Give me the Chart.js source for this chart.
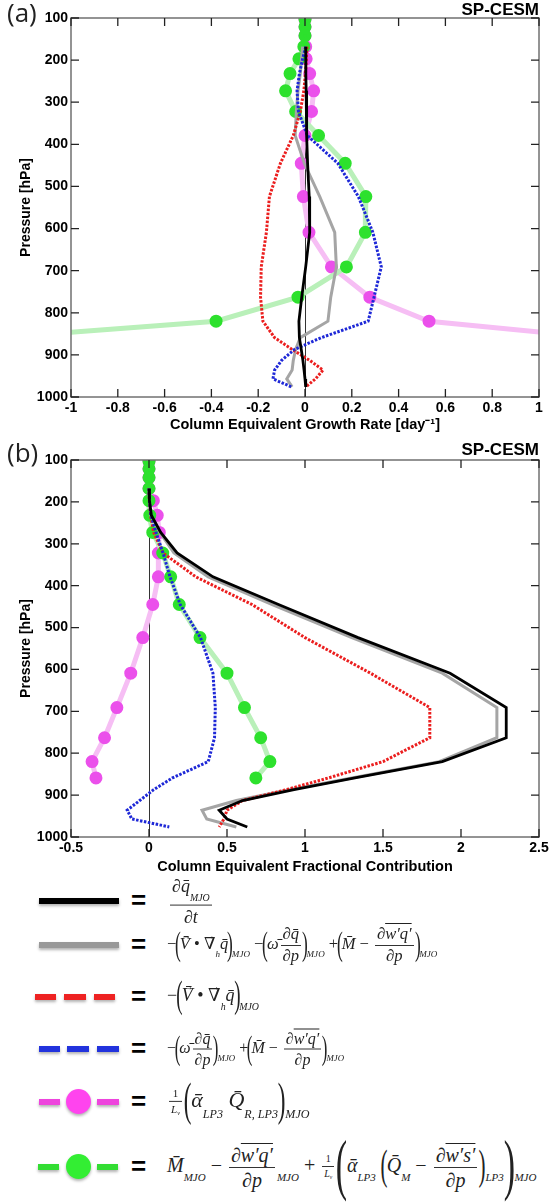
<!DOCTYPE html>
<html lang="en">
<head>
<meta charset="UTF-8">
<title>SP-CESM MJO moisture budget profiles</title>
<script src="https://cdn.jsdelivr.net/npm/chart.js"></script>
<style>
  body { margin: 0; background: #fff; }
  #page { position: relative; width: 556px; height: 1204px; overflow: hidden; }
  canvas { position: absolute; left: 0; }
  .tag { position: absolute; left: 7px; font-family: 'Open Sans', sans-serif; font-size: 26px; color: #222; line-height: 1; }
  .model { position: absolute; right: 17px; font-family: 'Liberation Sans', Arial, sans-serif; font-weight: bold; font-size: 17px; line-height: 1; }
  .key { position: absolute; height: 6px; box-shadow: 0 2px 3px rgba(0,0,0,0.3); }
  .dot { position: absolute; width: 25px; height: 25px; border-radius: 50%; box-shadow: 0 2px 3px rgba(0,0,0,0.3); }
  .eqs { position: absolute; left: 131px; font-family: 'Liberation Sans', Arial, sans-serif; font-weight: bold; font-size: 26px; transform: translateY(-52%); line-height: 1; }
  .eq { position: absolute; left: 167px; transform: translateY(-50%); font-family: 'Liberation Serif', 'DejaVu Serif', serif; font-size: 17px; color: #222; white-space: nowrap; line-height: 1; }
  .eq i { font-style: italic; }
  .s { font-size: 0.55em; font-style: italic; vertical-align: -0.9em; }
  .f { display: inline-block; vertical-align: middle; text-align: center; margin: 0 2px; }
  .f > span { display: block; padding: 0 2px; }
  .f > span:first-child { border-bottom: 1px solid #333; padding-bottom: 2px; }
  .f > span:last-child { padding-top: 2px; }
  .P { display: inline-block; font-size: 2.1em; transform: scaleX(0.5); vertical-align: middle; line-height: 1; margin: 0 -4px; position: relative; top: -0.05em; }
  .P.big { font-size: 3.4em; margin: 0 -6px; }
  .o { text-decoration: overline; text-decoration-thickness: 1px; }
  .v { position: relative; display: inline-block; }
  .v::before { content: '\2192'; position: absolute; left: 0.12em; top: -0.5em; font-size: 0.6em; font-style: normal; }
</style>
</head>
<body>
<div id="page">
  <canvas id="chartA" width="556" height="440" style="top:0"></canvas>
  <canvas id="chartB" width="556" height="440" style="top:440px"></canvas>

  <div class="tag" style="top:-1px">(a)</div>
  <div class="model" style="top:1px">SP-CESM</div>
  <div class="tag" style="top:439px">(b)</div>
  <div class="model" style="top:441px">SP-CESM</div>

  <!-- legend keys -->
  <div class="key" style="left:39px;top:898px;width:80px;background:#000"></div>
  <div class="key" style="left:39px;top:942px;width:80px;background:#999"></div>
  <div class="key" style="left:35px;top:994px;width:21px;background:#ee2222"></div>
  <div class="key" style="left:64px;top:994px;width:22px;background:#ee2222"></div>
  <div class="key" style="left:94px;top:994px;width:21px;background:#ee2222"></div>
  <div class="key" style="left:39px;top:1046px;width:21px;background:#2233dd"></div>
  <div class="key" style="left:67px;top:1046px;width:22px;background:#2233dd"></div>
  <div class="key" style="left:97px;top:1046px;width:22px;background:#2233dd"></div>
  <div class="key" style="left:39px;top:1099px;width:21px;background:#ee44dd"></div>
  <div class="dot" style="left:66px;top:1089px;background:#ff44ee"></div>
  <div class="key" style="left:97px;top:1099px;width:22px;background:#ee44dd"></div>
  <div class="key" style="left:38px;top:1164px;width:21px;background:#33dd33"></div>
  <div class="dot" style="left:66px;top:1154px;background:#33ee33"></div>
  <div class="key" style="left:97px;top:1164px;width:21px;background:#33dd33"></div>

  <div class="eqs" style="top:901px">=</div>
  <div class="eqs" style="top:945px">=</div>
  <div class="eqs" style="top:997px">=</div>
  <div class="eqs" style="top:1049px">=</div>
  <div class="eqs" style="top:1102px">=</div>
  <div class="eqs" style="top:1167px">=</div>

  <div class="eq" style="top:901px;left:168px;font-size:18px">
    <span class="f"><span><i>∂q̄</i><span class="s">MJO</span></span><span><i>∂t</i></span></span>
  </div>
  <div class="eq" style="top:945px;font-size:16.5px">
    −<span class="P">(</span><span class="v"><i>V̄</i></span> • <span class="v">∇</span><span class="s">h</span><i>q̄</i><span class="P">)</span><span class="s">MJO</span>
    −<span class="P">(</span><i>ω̄</i><span class="f"><span><i>∂q̄</i></span><span><i>∂p</i></span></span><span class="P">)</span><span class="s">MJO</span>
    +<span class="P">(</span><i>M̄</i> − <span class="f"><span><i>∂<span class="o">w′q′</span></i></span><span><i>∂p</i></span></span><span class="P">)</span><span class="s">MJO</span>
  </div>
  <div class="eq" style="top:997px;font-size:18px">
    −<span class="P">(</span><span class="v"><i>V̄</i></span> • <span class="v">∇</span><span class="s">h</span><i>q̄</i><span class="P">)</span><span class="s">MJO</span>
  </div>
  <div class="eq" style="top:1049px;font-size:16px">
    −<span class="P">(</span><i>ω̄</i><span class="f"><span><i>∂q̄</i></span><span><i>∂p</i></span></span><span class="P">)</span><span class="s">MJO</span>
    +<span class="P">(</span><i>M̄</i> − <span class="f"><span><i>∂<span class="o">w′q′</span></i></span><span><i>∂p</i></span></span><span class="P">)</span><span class="s">MJO</span>
  </div>
  <div class="eq" style="top:1102px;font-size:22px">
    <span class="f" style="font-size:0.5em"><span>1</span><span><i>L</i><span class="s" style="vertical-align:-0.3em">v</span></span></span><span class="P">(</span><i>ᾱ</i><span class="s">LP3</span> <i>Q̄</i><span class="s">R, LP3</span><span class="P">)</span><span class="s">MJO</span>
  </div>
  <div class="eq" style="top:1167px;font-size:20px">
    <i>M̄</i><span class="s">MJO</span> − <span class="f"><span><i>∂<span class="o">w′q′</span></i></span><span><i>∂p</i></span></span><span class="s">MJO</span>
    + <span class="f" style="font-size:0.5em"><span>1</span><span><i>L</i><span class="s" style="vertical-align:-0.3em">v</span></span></span><span class="P big">(</span><i>ᾱ</i><span class="s">LP3</span> <span class="P">(</span><i>Q̄</i><span class="s">M</span> − <span class="f"><span><i>∂<span class="o">w′s′</span></i></span><span><i>∂p</i></span></span><span class="P">)</span><span class="s">LP3</span><span class="P big">)</span><span class="s">MJO</span>
  </div>
</div>

<script>
// model levels [hPa] for the budget terms (solid / dotted lines)
const levels = [168, 197, 232, 273, 322, 379, 445, 524, 609, 691, 763, 820, 859, 887, 913, 936, 957, 976];
// levels of the dotted-marker curves
const dotLevels = [103, 121, 142, 168, 197, 232, 273, 322, 379, 445, 524, 609, 691, 763, 820, 859];

// (a) column equivalent growth rate [day^-1]
const aTendency = [0.003, 0.003, 0.004, 0.005, 0.006, 0.008, 0.011, 0.018, 0.02, 0.003, -0.014, -0.026, -0.024, -0.016, -0.009, -0.004, 0.0, 0.003];
const aTotal    = [-0.01, -0.015, -0.02, -0.03, -0.037, -0.042, -0.003, 0.063, 0.127, 0.134, 0.11, 0.098, -0.02, -0.04, -0.05, -0.055, -0.078, -0.055];
const aHoriz    = [0.008, 0.006, 0.002, -0.005, -0.02, -0.05, -0.105, -0.152, -0.165, -0.187, -0.19, -0.18, -0.13, -0.055, 0.02, 0.077, 0.045, 0.003];
const aVert     = [0.003, -0.01, -0.024, -0.034, -0.028, 0.01, 0.14, 0.228, 0.29, 0.326, 0.295, 0.27, 0.07, -0.045, -0.1, -0.13, -0.137, -0.058];
const aRad      = [0, 0, 0, 0.003, 0.005, 0.02, 0.037, 0.028, 0, -0.016, -0.007, 0.017, 0.113, 0.277, 0.53, 1.24];
const aConv     = [0, 0, 0, -0.005, -0.026, -0.064, -0.083, -0.04, 0.058, 0.172, 0.26, 0.258, 0.177, -0.03, -0.38, -1.3];

// (b) column equivalent fractional contribution
const bTendency = [0, 0.003, 0.015, 0.075, 0.18, 0.41, 0.83, 1.34, 1.93, 2.29, 2.29, 1.88, 1.32, 0.93, 0.6, 0.45, 0.5, 0.63];
const bTotal    = [0, 0.003, 0.012, 0.07, 0.16, 0.38, 0.79, 1.3, 1.88, 2.23, 2.23, 1.86, 1.3, 0.9, 0.56, 0.34, 0.37, 0.56];
const bHoriz    = [0, 0.002, 0.01, 0.03, 0.09, 0.3, 0.66, 1.0, 1.42, 1.8, 1.8, 1.5, 1.15, 0.88, 0.6, 0.5, 0.48, 0.45];
const bVert     = [0, 0.003, 0.012, 0.045, 0.09, 0.135, 0.2, 0.33, 0.41, 0.425, 0.42, 0.38, 0.15, 0.03, -0.06, -0.14, -0.11, 0.13];
const bRad      = [0, 0, 0, 0, 0.028, 0.053, 0.066, 0.06, 0.06, 0.024, -0.04, -0.117, -0.206, -0.285, -0.365, -0.34];
const bConv     = [0, 0, 0, 0, 0, 0.005, 0.024, 0.088, 0.139, 0.194, 0.327, 0.5, 0.612, 0.716, 0.775, 0.685];

const pressureTicks = [100, 200, 300, 400, 500, 600, 700, 800, 900, 1000];
const aTicks = [-1, -0.8, -0.6, -0.4, -0.2, 0, 0.2, 0.4, 0.6, 0.8, 1];
const bTicks = [-0.5, 0, 0.5, 1, 1.5, 2, 2.5];

const SANS = "'Liberation Sans', Arial, sans-serif";

function pts(xs, ps) {
    return xs.map((x, i) => ({ x: x, y: ps[i] }));
}

function series(tend, total, horiz, vert, rad, conv) {
    return [
        { data: pts(rad, dotLevels), borderColor: 'rgb(246,190,244)', borderWidth: 5,
          pointRadius: 4, pointBackgroundColor: 'rgb(235,80,235)', pointBorderColor: 'rgb(235,80,235)', order: 6 },
        { data: pts(conv, dotLevels), borderColor: 'rgb(185,240,185)', borderWidth: 5,
          pointRadius: 4, pointBackgroundColor: 'rgb(45,225,45)', pointBorderColor: 'rgb(45,225,45)', order: 5 },
        { data: pts(total, levels), borderColor: 'rgb(165,165,165)', borderWidth: 3, pointRadius: 0, order: 4 },
        { data: pts(horiz, levels), borderColor: 'rgb(235,30,30)', borderWidth: 3, borderDash: [2.5, 1.5], pointRadius: 0, order: 3 },
        { data: pts(vert, levels), borderColor: 'rgb(30,40,215)', borderWidth: 3, borderDash: [2.5, 1.5], pointRadius: 0, order: 2 },
        { data: pts(tend, levels), borderColor: '#000', borderWidth: 2.8, pointRadius: 0, order: 1 }
    ];
}

// box, inward ticks and zero line
const framePlugin = {
    id: 'frame',
    beforeDatasetsDraw(chart) {
        const { ctx, chartArea: a, scales: { x } } = chart;
        const x0 = Math.round(x.getPixelForValue(0)) + 0.5;
        ctx.save();
        ctx.strokeStyle = '#333';
        ctx.lineWidth = 1;
        ctx.beginPath();
        ctx.moveTo(x0, a.top);
        ctx.lineTo(x0, a.bottom);
        ctx.stroke();
        ctx.restore();
    },
    afterDraw(chart) {
        const { ctx, chartArea: a, scales: { x, y } } = chart;
        ctx.save();
        ctx.strokeStyle = '#707070';
        ctx.lineWidth = 1.5;
        ctx.strokeRect(a.left, a.top, a.right - a.left, a.bottom - a.top);
        ctx.strokeStyle = '#222';
        ctx.lineWidth = 1.3;
        ctx.beginPath();
        x.ticks.forEach(t => {
            const px = x.getPixelForValue(t.value);
            ctx.moveTo(px, a.bottom); ctx.lineTo(px, a.bottom - 8);
            ctx.moveTo(px, a.top); ctx.lineTo(px, a.top + 8);
        });
        y.ticks.forEach(t => {
            const py = y.getPixelForValue(t.value);
            ctx.moveTo(a.left, py); ctx.lineTo(a.left + 8, py);
            ctx.moveTo(a.right, py); ctx.lineTo(a.right - 8, py);
        });
        ctx.stroke();
        ctx.restore();
    }
};

function makeChart(id, xmin, xmax, xt, title, top, titlePad, data) {
    return new Chart(document.getElementById(id), {
        type: 'line',
        data: { datasets: data },
        plugins: [framePlugin],
        options: {
            responsive: false,
            animation: false,
            devicePixelRatio: 1,
            layout: { padding: { top: top, right: 17, left: 0, bottom: 0 } },
            elements: { line: { tension: 0, fill: false } },
            plugins: { legend: { display: false }, tooltip: { enabled: false } },
            scales: {
                x: {
                    type: 'linear', min: xmin, max: xmax,
                    grid: { display: false, drawTicks: false },
                    border: { display: false },
                    afterBuildTicks: s => { s.ticks = xt.map(v => ({ value: v })); },
                    afterFit: s => { s.height = 43; },
                    ticks: {
                        padding: 3, color: '#000', autoSkip: false, maxRotation: 0,
                        font: { family: SANS, size: 14, weight: 'bold' },
                        callback: v => String(Math.round(v * 10) / 10)
                    },
                    title: {
                        display: true, text: title, color: '#000',
                        font: { family: SANS, size: 14.5, weight: 'bold' },
                        padding: { top: 0, bottom: titlePad }
                    }
                },
                y: {
                    type: 'linear', reverse: true, min: 100, max: 1000,
                    grid: { display: false, drawTicks: false },
                    border: { display: false },
                    afterBuildTicks: s => { s.ticks = pressureTicks.map(v => ({ value: v })); },
                    afterFit: s => { s.width = 71; },
                    ticks: {
                        padding: 3, color: '#000',
                        font: { family: SANS, size: 14, weight: 'bold' },
                        callback: v => String(v)
                    },
                    title: {
                        display: true, text: 'Pressure [hPa]', color: '#000',
                        font: { family: SANS, size: 14, weight: 'bold' },
                        padding: { top: 18, bottom: 0 }
                    }
                }
            }
        }
    });
}

makeChart('chartA', -1, 1, aTicks, 'Column Equivalent Growth Rate [day\u207B\u00B9]', 18, 6,
    series(aTendency, aTotal, aHoriz, aVert, aRad, aConv));
makeChart('chartB', -0.5, 2.5, bTicks, 'Column Equivalent Fractional Contribution', 20, 4,
    series(bTendency, bTotal, bHoriz, bVert, bRad, bConv));
</script>
</body>
</html>
